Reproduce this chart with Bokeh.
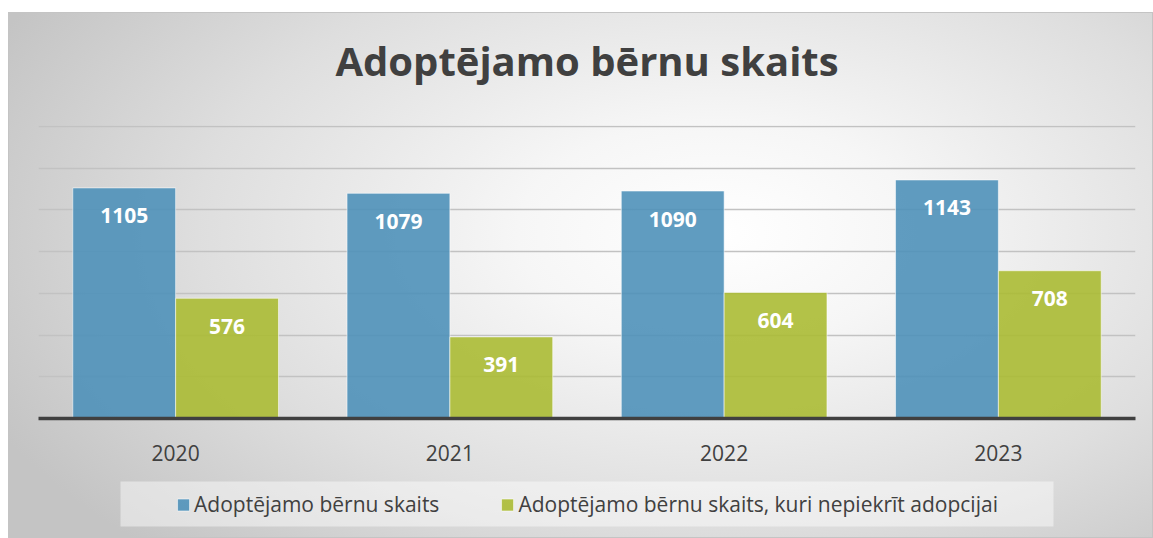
from bokeh.plotting import figure
from bokeh.layouts import column
from bokeh.models import ColumnDataSource, FactorRange, Range1d, Legend, LegendItem, FixedTicker, BoxAnnotation
from bokeh.transform import dodge
from bokeh.embed import file_html
from bokeh.resources import INLINE

years = ["2020", "2021", "2022", "2023"]
total = [1105, 1079, 1090, 1143]
refuse = [576, 391, 604, 708]
series_names = ["Adoptējamo bērnu skaits", "Adoptējamo bērnu skaits, kuri nepiekrīt adopcijai"]
title_text = "Adoptējamo bērnu skaits"

FONT = "Open Sans"
DARK = "#404040"
BLUE = "#4F91B9"
GREEN = "#ABBB34"

src = ColumnDataSource(dict(year=years, total=total, refuse=refuse,
                            total_lbl=[str(v) for v in total],
                            refuse_lbl=[str(v) for v in refuse]))


def blank_strip(height, **kw):
    f = figure(width=1145, height=height, x_range=Range1d(38, 1135), y_range=Range1d(0, height),
               output_backend="svg", toolbar_location=None,
               x_axis_location=None, y_axis_location=None, **kw)
    f.border_fill_color = None
    f.background_fill_color = None
    f.outline_line_color = None
    f.grid.visible = False
    return f


# ---- title strip ----
hd = blank_strip(113, min_border_top=80, min_border_bottom=0, min_border_left=0, min_border_right=0)
hd.title.text = title_text
hd.title.align = "center"
hd.title.text_font = FONT
hd.title.text_font_size = "40px"
hd.title.text_font_style = "bold"
hd.title.text_color = DARK
hd.title.standoff = 10

# ---- main chart ----
p = figure(width=1145, height=345, x_range=FactorRange(*years, range_padding=0),
           y_range=Range1d(0, 1404), output_backend="svg", toolbar_location=None,
           min_border_left=30, min_border_right=18, min_border_top=0, min_border_bottom=52)
p.border_fill_color = None
p.background_fill_color = None
p.outline_line_color = None

w = 0.375
bar_style = dict(fill_alpha=0.9, line_color="#ffffff", line_alpha=0.55, line_width=1)
p.vbar(x=dodge("year", -w / 2, range=p.x_range), top="total", width=w, source=src,
       fill_color=BLUE, **bar_style)
p.vbar(x=dodge("year", w / 2, range=p.x_range), top="refuse", width=w, source=src,
       fill_color=GREEN, **bar_style)

for col, lbl, off in (("total", "total_lbl", -w / 2), ("refuse", "refuse_lbl", w / 2)):
    p.text(x=dodge("year", off, range=p.x_range), y=col, text=lbl, source=src,
           text_align="center", text_baseline="middle", y_offset=28,
           text_color="white", text_font_size="21px", text_font_style="bold",
           text_font={"value": FONT})

p.ygrid.ticker = FixedTicker(ticks=[200, 400, 600, 800, 1000, 1200, 1400])
p.ygrid.grid_line_color = "#c2c2c2"
p.ygrid.grid_line_width = 1.5
p.xgrid.visible = False
p.yaxis.visible = False

ax = p.xaxis[0]
ax.axis_line_color = DARK
ax.axis_line_width = 3.5
ax.major_tick_line_color = None
ax.minor_tick_line_color = None
ax.major_label_text_font = FONT
ax.major_label_text_font_size = "21px"
ax.major_label_text_color = DARK
ax.major_label_standoff = 20

# ---- legend strip ----
lg = blank_strip(68, min_border=0)
lg.add_layout(BoxAnnotation(left=120, right=1053, bottom=12, top=57,
                            fill_color="#ffffff", fill_alpha=0.45, line_color=None))

key_src = ColumnDataSource(dict(x=[-1000], top=[0]))
kb = lg.vbar(x="x", top="top", width=1, source=key_src, fill_color=BLUE, **bar_style)
kg = lg.vbar(x="x", top="top", width=1, source=key_src, fill_color=GREEN, **bar_style)

legend = Legend(items=[LegendItem(label=series_names[0], renderers=[kb]),
                       LegendItem(label=series_names[1], renderers=[kg])],
                orientation="horizontal", location="center",
                label_text_font=FONT, label_text_font_size="21px", label_text_color=DARK,
                glyph_width=15, glyph_height=15, label_standoff=4, spacing=60,
                padding=6, margin=0,
                background_fill_color=None, background_fill_alpha=0,
                border_line_color=None)
lg.add_layout(legend, "center")

page = column(hd, p, lg, spacing=0,
              styles={"background": "radial-gradient(ellipse 70% 85% at 62% 42%, #ffffff 0%, #f6f6f6 25%, #dedede 65%, #c4c4c4 100%)",
                      "box-shadow": "inset 0 0 0 1px #c4c4c4",
                      "margin-left": "8px", "margin-top": "12px"})

open("out.html", "w").write(file_html(page, INLINE))
